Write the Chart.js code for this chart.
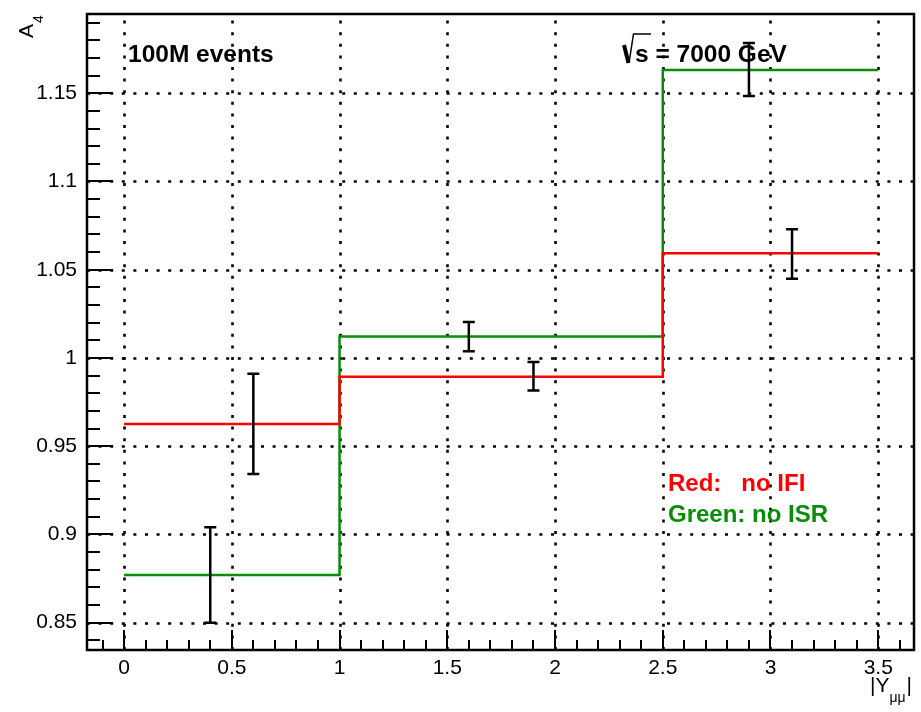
<!DOCTYPE html>
<html><head><meta charset="utf-8">
<script src="https://cdn.jsdelivr.net/npm/chart.js@4.4.0/dist/chart.umd.min.js"></script>
<style>html,body{margin:0;padding:0;background:#fff;}#wrap{width:921px;height:712px;}</style>
</head><body><div id="wrap"><canvas id="c" width="921" height="712"></canvas></div>
<script>
// ---- data ----
const binEdges   = [0, 1, 2.5, 3.5];
const redNoIFI   = [0.9626, 0.9894, 1.0593];
const greenNoISR = [0.8770, 1.0121, 1.1632];
const refX   = [0.4, 0.6, 1.6, 1.9, 2.9, 3.1];
const refY   = [0.877, 0.9627, 1.0121, 0.9896, 1.1634, 1.0589];
const refErr = [0.027, 0.0284, 0.0083, 0.0081, 0.015, 0.014];
const xTicks = [0, 0.5, 1, 1.5, 2, 2.5, 3, 3.5];
const yTicks = [0.85, 0.9, 0.95, 1, 1.05, 1.1, 1.15];
const xRange = [-0.172, 3.666];
const yRange = [0.8345, 1.1949];

const RED = '#ff0000', GREEN = '#0a8c0a';
const FONT = '"Liberation Sans", Arial, sans-serif';

function stepPoints(vals) {
  const p = vals.map((v, i) => ({x: binEdges[i], y: v}));
  p.push({x: binEdges[binEdges.length - 1], y: vals[vals.length - 1]});
  return p;
}

const rootPlugin = {
  id: 'rootStyle',
  beforeDatasetsDraw(chart) {
    const ctx = chart.ctx, a = chart.chartArea;
    const xs = chart.scales.x, ys = chart.scales.y;
    ctx.save();
    ctx.strokeStyle = '#000';
    ctx.lineWidth = 2.6;
    ctx.setLineDash([3, 8.6]);
    xTicks.forEach(v => {
      const px = Math.round(xs.getPixelForValue(v)) + 0.5;
      ctx.beginPath(); ctx.moveTo(px, a.bottom); ctx.lineTo(px, a.top); ctx.stroke();
    });
    yTicks.forEach(v => {
      const py = Math.round(ys.getPixelForValue(v)) + 0.5;
      ctx.beginPath(); ctx.moveTo(a.left, py); ctx.lineTo(a.right, py); ctx.stroke();
    });
    ctx.restore();
  },
  afterDatasetsDraw(chart) {
    const ctx = chart.ctx, a = chart.chartArea;
    const xs = chart.scales.x, ys = chart.scales.y;
    ctx.save();
    ctx.strokeStyle = '#000';
    // error bars
    const meta = chart.getDatasetMeta(2);
    ctx.lineWidth = 2.5;
    meta.data.forEach((el, i) => {
      const px = el.x;
      const yt = ys.getPixelForValue(refY[i] + refErr[i]);
      const yb = ys.getPixelForValue(refY[i] - refErr[i]);
      ctx.beginPath();
      ctx.moveTo(px, yt); ctx.lineTo(px, yb);
      ctx.moveTo(px - 6, yt); ctx.lineTo(px + 6, yt);
      ctx.moveTo(px - 6, yb); ctx.lineTo(px + 6, yb);
      ctx.stroke();
    });
    // ticks (inside frame)
    ctx.lineWidth = 2;
    for (let k = -1; k <= 36; k++) {
      const v = k / 10;
      const px = Math.round(xs.getPixelForValue(v));
      if (px < a.left || px > a.right) continue;
      const len = (k % 5 === 0) ? 20 : 10;
      ctx.beginPath(); ctx.moveTo(px, a.bottom); ctx.lineTo(px, a.bottom - len); ctx.stroke();
    }
    for (let k = 84; k <= 119; k++) {
      const v = k / 100;
      const py = Math.round(ys.getPixelForValue(v));
      if (py < a.top || py > a.bottom) continue;
      const len = (k % 5 === 0) ? 26 : 13;
      ctx.beginPath(); ctx.moveTo(a.left, py); ctx.lineTo(a.left + len, py); ctx.stroke();
    }
    // frame
    ctx.lineWidth = 2.5;
    ctx.strokeRect(a.left, a.top, a.right - a.left, a.bottom - a.top);
    ctx.restore();
  },
  afterDraw(chart) {
    const ctx = chart.ctx;
    ctx.save();
    ctx.fillStyle = '#000';
    ctx.textBaseline = 'alphabetic';
    ctx.textAlign = 'left';
    // top-left label
    ctx.font = 'bold 24.5px ' + FONT;
    ctx.fillText('100M events', 128, 62);
    // sqrt(s) = 7000 GeV
    ctx.strokeStyle = '#000';
    ctx.lineCap = 'butt';
    ctx.lineWidth = 4;
    ctx.beginPath(); ctx.moveTo(624, 45); ctx.lineTo(628.5, 63); ctx.stroke();
    ctx.lineWidth = 1.5;
    ctx.beginPath(); ctx.moveTo(629, 63); ctx.lineTo(633.5, 34); ctx.lineTo(651, 34); ctx.stroke();
    ctx.fillText('s = 7000 GeV', 635, 62);
    // legend text
    ctx.font = 'bold 24px ' + FONT;
    ctx.fillStyle = RED;
    ctx.fillText('Red:   no IFI', 668, 491);
    ctx.fillStyle = GREEN;
    ctx.fillText('Green: no ISR', 668, 522);
    // y title A_4 (rotated)
    ctx.fillStyle = '#000';
    ctx.save();
    ctx.translate(33, 38);
    ctx.rotate(-Math.PI / 2);
    ctx.font = '21px ' + FONT;
    ctx.fillText('A', 0, 0);
    const wA = ctx.measureText('A').width;
    ctx.font = '14px ' + FONT;
    ctx.fillText('4', wA + 1, 10);
    ctx.restore();
    // x title |Y_mumu|
    ctx.font = '21px ' + FONT;
    const w1 = ctx.measureText('|Y').width;
    const w3 = ctx.measureText('|').width;
    ctx.font = '14px ' + FONT;
    const w2 = ctx.measureText('μμ').width;
    let sx = 912 - (w1 + w2 + w3 + 1);
    ctx.font = '21px ' + FONT;
    ctx.fillText('|Y', sx, 692);
    ctx.font = '14px ' + FONT;
    ctx.fillText('μμ', sx + w1, 702);
    ctx.font = '21px ' + FONT;
    ctx.fillText('|', sx + w1 + w2 + 1, 692);
    ctx.restore();
  }
};

new Chart(document.getElementById('c'), {
  type: 'line',
  data: {
    datasets: [
      { label: 'no IFI', data: stepPoints(redNoIFI), borderColor: RED, borderWidth: 2.5,
        stepped: 'before', pointRadius: 0, fill: false },
      { label: 'no ISR', data: stepPoints(greenNoISR), borderColor: GREEN, borderWidth: 2.5,
        stepped: 'before', pointRadius: 0, fill: false },
      { label: 'reference', data: refX.map((x, i) => ({x, y: refY[i]})), showLine: false,
        pointRadius: 0, borderColor: '#000' }
    ]
  },
  options: {
    responsive: false, animation: false, devicePixelRatio: 1,
    layout: { padding: { left: 0, top: 14, right: 7, bottom: 0 } },
    plugins: { legend: { display: false }, tooltip: { enabled: false } },
    scales: {
      x: {
        type: 'linear', min: xRange[0], max: xRange[1],
        afterBuildTicks: s => { s.ticks = xTicks.map(v => ({value: v})); },
        afterFit: s => { s.height = 62; s.paddingLeft = 0; s.paddingRight = 0; },
        grid: { display: false, drawTicks: false },
        border: { display: false },
        ticks: { font: { family: FONT, size: 21 }, color: '#000', padding: 6,
                 maxRotation: 0, autoSkip: false, callback: v => String(v) }
      },
      y: {
        type: 'linear', min: yRange[0], max: yRange[1],
        afterBuildTicks: s => { s.ticks = yTicks.map(v => ({value: v})); },
        afterFit: s => { s.width = 87; s.paddingTop = 0; s.paddingBottom = 0; },
        grid: { display: false, drawTicks: false },
        border: { display: false },
        ticks: { font: { family: FONT, size: 21 }, color: '#000', padding: 10,
                 autoSkip: false, callback: v => String(v) }
      }
    }
  },
  plugins: [rootPlugin]
});
</script>
</body></html>
